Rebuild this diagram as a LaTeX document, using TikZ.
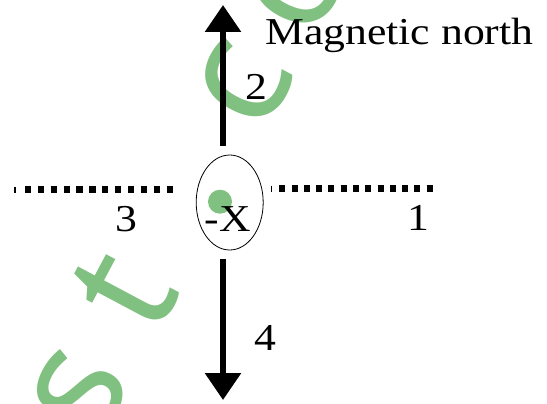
\documentclass[tikz,border=0pt]{standalone}
\usepackage{fontspec}
\setmainfont{Liberation Serif}
\newfontfamily\wmfont{Noto Sans}
\usetikzlibrary{arrows.meta,shapes.geometric}
\definecolor{wmgreen}{RGB}{128,192,128}
\begin{document}
\begin{tikzpicture}[x=1pt,y=-1pt,
  lbl/.style={font=\fontsize{38}{40}\selectfont, inner sep=0pt, anchor=base, xscale=1.15},
  wm/.style={text=wmgreen, font=\wmfont\fontsize{155}{155}\selectfont, inner sep=0pt, anchor=base, rotate=62},
  bigarrow/.style={line width=6pt, -{Triangle[width=35pt,length=27pt]}},
  dotsl/.style={line width=6.5pt, dash pattern=on 6.2pt off 6.67pt},
  dotsr/.style={line width=6.5pt, dash pattern=on 6pt off 6.28pt},
  tick/.style={line width=1.6pt}]
\useasboundingbox (0,0) rectangle (547,404);
% watermark
\node[wm] (ws) at (116.8,412) {s};
\node[wm] (wt) at (168.6,314.7) {t};
\node[circle, fill=wmgreen, minimum size=24pt, inner sep=0pt] (wd) at (220,201.7) {};
\node[wm] (wc) at (280.5,104) {c};
\node[wm] (wo) at (334.5,2.3) {o};
% arrows
\coordinate (ub) at (223,146);
\coordinate (ut) at (223,5);
\draw[bigarrow] (ub) -- (ut);
\coordinate (db) at (223,259);
\coordinate (dt) at (223,400);
\draw[bigarrow] (db) -- (dt);
% dotted lines
\coordinate (l1) at (25,189.5);
\coordinate (l2) at (173,189.5);
\draw[dotsl] (l1) -- (l2);
\coordinate (lt1) at (14.8,186.5);
\coordinate (lt2) at (14.8,192.5);
\draw[tick] (lt1) -- (lt2);
\coordinate (r1) at (279.3,188.5);
\coordinate (r2) at (432.7,188.5);
\draw[dotsr] (r1) -- (r2);
\coordinate (rt1) at (271.3,185.5);
\coordinate (rt2) at (271.3,191.5);
\draw[tick] (rt1) -- (rt2);
% ellipse
\node[draw, ellipse, line width=0.8pt, minimum width=67pt, minimum height=95pt, inner sep=0pt] (ov) at (229.7,202.5) {};
% labels
\node[lbl] (n2) at (256.7,100) {2};
\node[lbl] (n4) at (265.5,350) {4};
\node[lbl] (n3) at (126.5,231.7) {3};
\node[lbl] (n1) at (418.5,230) {1};
\node[lbl] (nx) at (228,231) {-X};
\node[lbl, anchor=base west] (mn) at (265,45) {Magnetic north};
\end{tikzpicture}
\end{document}
